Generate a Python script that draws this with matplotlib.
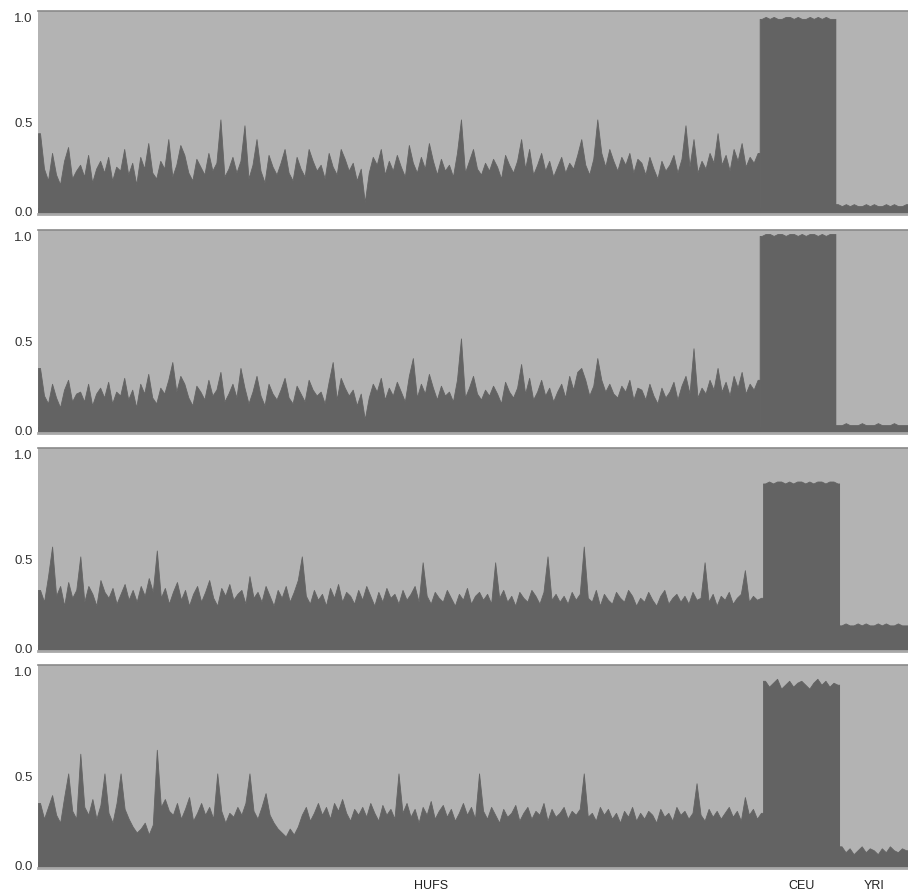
import matplotlib
matplotlib.use("Agg")
import matplotlib.pyplot as plt
import numpy as np

# ancestry proportion (%) of the dark component, one value per individual
hufs_1 = [38, 20, 14, 28, 17, 12, 24, 31, 15, 19,
          22, 16, 27, 13, 20, 24, 18, 26, 14, 21,
          19, 30, 17, 23, 12, 26, 20, 33, 18, 15,
          24, 20, 35, 16, 22, 32, 27, 18, 14, 25,
          21, 17, 28, 19, 23, 45, 16, 20, 26, 18,
          24, 42, 15, 22, 35, 19, 13, 27, 21, 17,
          23, 30, 18, 14, 26, 20, 16, 30, 24, 19,
          22, 15, 28, 21, 17, 30, 25, 19, 23, 14,
          20, 3, 18, 26, 22, 30, 17, 24, 19, 27,
          21, 16, 32, 23, 18, 26, 20, 33, 24, 17,
          25, 19, 22, 16, 28, 45, 18, 24, 30, 20,
          17, 23, 19, 25, 21, 15, 27, 22, 18, 24,
          35, 20, 30, 17, 22, 28, 19, 24, 16, 21,
          26, 18, 23, 20, 27, 35, 22, 17, 25, 45,
          28, 21, 30, 24, 19, 26, 22, 28, 18, 25,
          23, 17, 26, 20, 15, 24, 19, 22, 27, 18,
          25, 42, 21, 35, 18, 24, 20, 28, 23, 38,
          22, 27, 19, 30, 24, 33, 21, 26, 23, 28]
ceu_1 = [96, 97, 96, 97, 96, 96, 97, 97, 96, 97, 96, 96, 97, 96, 97, 96, 97, 96, 96]
yri_1 = [2, 1, 2, 1, 2, 1, 1, 2, 1, 2, 1, 1, 2, 1, 2, 1, 1, 2]

hufs_2 = [30, 16, 12, 22, 15, 10, 19, 24, 13, 17,
          18, 13, 22, 11, 17, 20, 15, 23, 12, 18,
          16, 25, 14, 19, 10, 22, 17, 27, 15, 12,
          20, 17, 24, 33, 18, 26, 22, 15, 11, 21,
          18, 14, 24, 16, 19, 28, 13, 17, 22, 15,
          30, 20, 12, 18, 26, 16, 11, 22, 17, 14,
          19, 25, 15, 12, 21, 17, 13, 24, 19, 16,
          18, 12, 23, 33, 14, 25, 20, 16, 19, 11,
          17, 4, 15, 22, 18, 25, 14, 20, 16, 23,
          18, 13, 26, 35, 15, 22, 17, 27, 20, 14,
          21, 16, 18, 13, 24, 45, 15, 20, 26, 17,
          14, 19, 16, 21, 17, 12, 23, 18, 15, 20,
          32, 17, 25, 14, 18, 24, 16, 20, 13, 18,
          22, 15, 26, 19, 28, 30, 24, 16, 21, 35,
          24, 18, 22, 17, 15, 21, 18, 24, 14, 20,
          19, 14, 22, 16, 12, 20, 15, 18, 23, 14,
          21, 26, 17, 40, 15, 20, 17, 24, 19, 30,
          18, 23, 16, 26, 20, 28, 17, 22, 19, 24]
ceu_2 = [97, 98, 98, 97, 98, 98, 97, 98, 98, 97, 98, 97, 98, 98, 97, 98, 97, 98, 98]
yri_2 = [1, 1, 2, 1, 1, 1, 2, 1, 1, 1, 2, 1, 1, 1, 2, 1, 1, 1]

hufs_3 = [28, 22, 35, 50, 25, 30, 20, 32, 24, 28,
          45, 22, 30, 26, 20, 33, 27, 24, 29, 21,
          26, 31, 23, 28, 22, 30, 25, 34, 27, 48,
          24, 29, 21, 27, 32, 23, 28, 20, 26, 30,
          22, 27, 33, 24, 20, 29, 25, 31, 23, 26,
          28, 21, 35, 24, 27, 22, 30, 25, 20, 28,
          24, 30, 22, 27, 33, 45, 25, 21, 28, 23,
          26, 20, 29, 24, 31, 22, 27, 25, 21, 28,
          23, 30, 25, 20, 27, 22, 29, 24, 26, 21,
          28, 23, 26, 30, 22, 42, 25, 21, 27, 24,
          22, 28, 24, 20, 26, 23, 29, 21, 25, 27,
          23, 26, 21, 42, 24, 28, 22, 25, 20, 27,
          24, 22, 28, 25, 21, 27, 45, 23, 26, 22,
          25, 21, 27, 23, 26, 50, 24, 22, 28, 20,
          26, 23, 21, 27, 24, 22, 28, 25, 20, 24,
          22, 27, 23, 20, 25, 28, 21, 24, 26, 22,
          25, 21, 27, 23, 24, 42, 22, 26, 20, 25,
          23, 27, 21, 24, 26, 38, 22, 25, 23, 24]
ceu_3 = [82, 83, 82, 83, 83, 82, 83, 82, 83, 83, 82, 83, 82, 83, 83, 82, 83, 83, 82]
yri_3 = [10, 11, 10, 10, 11, 10, 11, 10, 10, 11, 10, 11, 10, 10, 11, 10, 10]

hufs_4 = [30, 22, 28, 34, 24, 20, 33, 45, 26, 22,
          55, 28, 24, 32, 22, 29, 45, 25, 20, 30,
          45, 27, 22, 18, 15, 17, 20, 14, 19, 57,
          28, 32, 26, 24, 30, 22, 27, 33, 21, 25,
          30, 24, 28, 22, 45, 26, 20, 25, 23, 28,
          24, 30, 45, 26, 22, 28, 35, 24, 20, 17,
          15, 13, 17, 14, 18, 24, 28, 21, 25, 30,
          24, 28, 22, 30, 26, 32, 25, 21, 27, 24,
          28, 23, 30, 25, 21, 29, 24, 27, 22, 45,
          25, 30, 23, 27, 20, 28, 24, 31, 22, 26,
          29, 23, 27, 21, 25, 30, 24, 28, 22, 45,
          26, 22, 28, 24, 20, 27, 23, 25, 29, 21,
          25, 28, 22, 26, 24, 30, 21, 27, 23, 25,
          28, 22, 26, 24, 27, 45, 23, 25, 21, 28,
          24, 27, 22, 25, 20, 26, 23, 28, 21, 25,
          22, 26, 24, 20, 27, 23, 25, 21, 28, 24,
          26, 22, 25, 40, 24, 21, 27, 23, 26, 22,
          25, 28, 23, 26, 21, 33, 24, 27, 22, 25]
ceu_4 = [92, 89, 91, 93, 88, 90, 92, 89, 91, 92, 90, 88, 91, 93, 90, 92, 89, 91, 90]
yri_4 = [8, 5, 7, 4, 6, 8, 5, 7, 6, 4, 7, 5, 8, 6, 5, 7, 6]

panels = [(hufs_1, ceu_1, yri_1), (hufs_2, ceu_2, yri_2),
          (hufs_3, ceu_3, yri_3), (hufs_4, ceu_4, yri_4)]
group_names = ["HUFS", "CEU", "YRI"]

DARK = "#636363"
LIGHT = "#b3b3b3"

plt.rcParams["font.family"] = ["Liberation Sans", "DejaVu Sans"]

W, H = 908, 895
fig = plt.figure(figsize=(W / 100, H / 100), dpi=100)
tops = [12, 231, 449, 666]
ph = 203

for k, groups in enumerate(panels):
    ax = fig.add_axes([38 / W, 1 - (tops[k] + ph) / H, 870 / W, ph / H])
    ax.set_facecolor(LIGHT)
    start = 0
    for g in groups:
        q = np.array(g) / 100.0
        n = len(q)
        # individuals sit at integer positions; group edges at +-0.5
        x = np.concatenate([[start - 0.5], np.arange(start, start + n), [start + n - 0.5]])
        y = np.concatenate([[q[0]], q, [q[-1]]])
        ax.fill_between(x, y, 1, color=LIGHT, lw=0)
        ax.fill_between(x, 0, y, facecolor=DARK, edgecolor=DARK, lw=0.6)
        start += n
    ax.axhspan(-0.03, 0, color=DARK, lw=0)
    ax.set_xlim(-0.5, start - 0.5)
    ax.set_ylim(-0.03, 1.0)

    ax.set_yticks([-0.01, 0.44, 0.97])
    ax.set_yticklabels(["0.0", "0.5", "1.0"])
    ax.tick_params(axis="y", length=0, pad=4, labelsize=9.5, labelcolor="#333333")
    for s in ["left", "right"]:
        ax.spines[s].set_visible(False)
    ax.spines["top"].set_color("#8a8a8a")
    ax.spines["top"].set_linewidth(1.2)
    ax.spines["bottom"].set_color("#a8a8a8")
    ax.spines["bottom"].set_linewidth(2.0)

    if k == 3:
        n1, n2, n3 = (len(g) for g in groups)
        ax.set_xticks([n1 * 0.54, n1 + n2 / 2 - 0.5, n1 + n2 + n3 / 2 - 0.5])
        ax.set_xticklabels(group_names)
        ax.tick_params(axis="x", length=0, pad=8, labelsize=9, labelcolor="#222222")
    else:
        ax.set_xticks([])

fig.savefig("out.png", dpi=100)
